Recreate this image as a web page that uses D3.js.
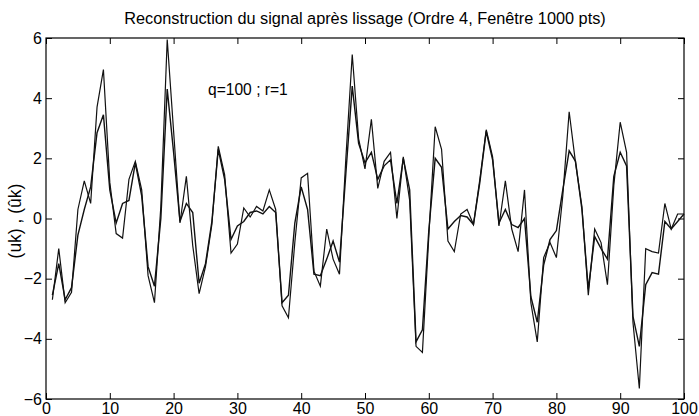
<!DOCTYPE html>
<html><head><meta charset="utf-8">
<script src="https://cdn.jsdelivr.net/npm/d3@7"></script>
<style>body{margin:0;background:#fff;}svg{display:block;font-family:"Liberation Sans",Arial,sans-serif;}</style>
</head><body><svg id="c" width="699" height="416"></svg>
<script>
const titleText = "Reconstruction du signal après lissage (Ordre 4, Fenêtre 1000 pts)";
const yLabel = "(uk) , (ûk)";
const annotation = "q=100 ; r=1";
const xTicks = [0,10,20,30,40,50,60,70,80,90,100];
const yTicks = [-6,-4,-2,0,2,4,6];
const kIndex = d3.range(1,101);
const uk = [-2.7,-1.0,-2.8,-2.45,0.3,1.25,0.5,3.7,4.95,1.2,
 -0.5,-0.65,1.3,1.9,0.95,-1.9,-2.8,0.4,5.95,2.9,
 -0.15,1.4,-0.9,-2.5,-1.6,-0.2,2.4,1.45,-1.15,-0.85,
 0.35,0.05,0.4,0.25,0.95,0.3,-2.9,-3.3,-0.8,1.35,
 1.5,-1.75,-2.25,-0.35,-1.35,-1.85,2.0,5.45,2.65,1.65,
 3.3,1.0,1.9,2.2,0.0,2.05,0.6,-4.25,-4.45,-0.6,
 3.05,2.3,-0.75,-1.1,0.15,0.3,-0.2,1.3,2.95,2.05,
 -0.25,1.25,-0.35,-1.1,0.95,-2.8,-4.1,-1.3,-0.8,-1.3,
 0.75,3.55,1.85,0.4,-2.55,-0.35,-0.8,-2.2,1.1,3.2,
 2.2,-3.45,-5.65,-1.0,-1.1,-1.15,0.5,-0.35,0.15,0.15];
const ukHat = [-2.55,-1.5,-2.7,-2.3,-0.55,0.3,1.05,2.85,3.45,0.95,
 -0.15,0.5,0.6,1.85,0.75,-1.6,-2.25,0.0,4.3,2.2,
 -0.1,0.5,0.2,-2.15,-1.5,-0.1,2.3,1.3,-0.7,-0.25,
 -0.1,0.2,0.25,0.15,0.4,0.2,-2.8,-2.55,-0.15,1.05,
 0.3,-1.85,-1.9,-1.35,-0.75,-1.45,1.5,4.4,2.5,1.85,
 2.2,1.3,1.75,1.95,0.5,2.0,0.95,-4.1,-3.7,-0.4,
 2.0,1.7,-0.35,-0.1,0.1,0.05,-0.2,1.2,2.9,1.95,
 -0.15,0.3,-0.2,-0.3,0.0,-2.6,-3.45,-1.55,-0.7,-0.4,
 0.95,2.25,1.9,0.3,-2.35,-0.6,-1.0,-1.35,1.4,2.2,
 1.75,-3.25,-4.25,-2.2,-1.8,-1.85,-0.1,-0.35,-0.1,0.15];

const svg = d3.select("#c");
const L=46, R=684, T=38, B=399;
const x = d3.scaleLinear().domain([0,100]).range([L,R]);
const y = d3.scaleLinear().domain([-6,6]).range([B,T]);

svg.append("rect").attr("x",L).attr("y",T).attr("width",R-L).attr("height",B-T)
  .attr("fill","none").attr("stroke","#000").attr("stroke-width",1.2);

const tl = 6;
const ax = (g)=>{g.select(".domain").remove(); g.selectAll("text").attr("fill","#000").style("font-size","16px"); g.selectAll("line").attr("stroke","#000");};
svg.append("g").attr("transform",`translate(0,${B})`)
  .call(d3.axisBottom(x).tickValues(xTicks).tickSizeInner(-tl).tickSizeOuter(0).tickPadding(4)).call(ax);
svg.append("g").attr("transform",`translate(0,${T})`)
  .call(d3.axisTop(x).tickValues(xTicks).tickSizeInner(-tl).tickSizeOuter(0).tickFormat("")).call(ax);
svg.append("g").attr("transform",`translate(${L},0)`)
  .call(d3.axisLeft(y).tickValues(yTicks).tickSizeInner(-tl).tickSizeOuter(0).tickPadding(4)).call(ax);
svg.append("g").attr("transform",`translate(${R},0)`)
  .call(d3.axisRight(y).tickValues(yTicks).tickSizeInner(-tl).tickSizeOuter(0).tickFormat("")).call(ax);

const line = d3.line().x((d,i)=>x(kIndex[i])).y(d=>y(d));
svg.append("path").datum(uk).attr("d",line).attr("fill","none").attr("stroke","#111").attr("stroke-width",1.2);
svg.append("path").datum(ukHat).attr("d",line).attr("fill","none").attr("stroke","#111").attr("stroke-width",1.4);

svg.append("text").attr("x",(L+R)/2).attr("y",24).attr("text-anchor","middle")
  .style("font-size","16.3px").text(titleText);
svg.append("text").attr("transform",`translate(21,221) rotate(-90)`).attr("text-anchor","middle")
  .style("font-size","17.5px").text(yLabel);
svg.append("text").attr("x",208).attr("y",y(4.3)+6).style("font-size","15.6px").text(annotation);
</script></body></html>
